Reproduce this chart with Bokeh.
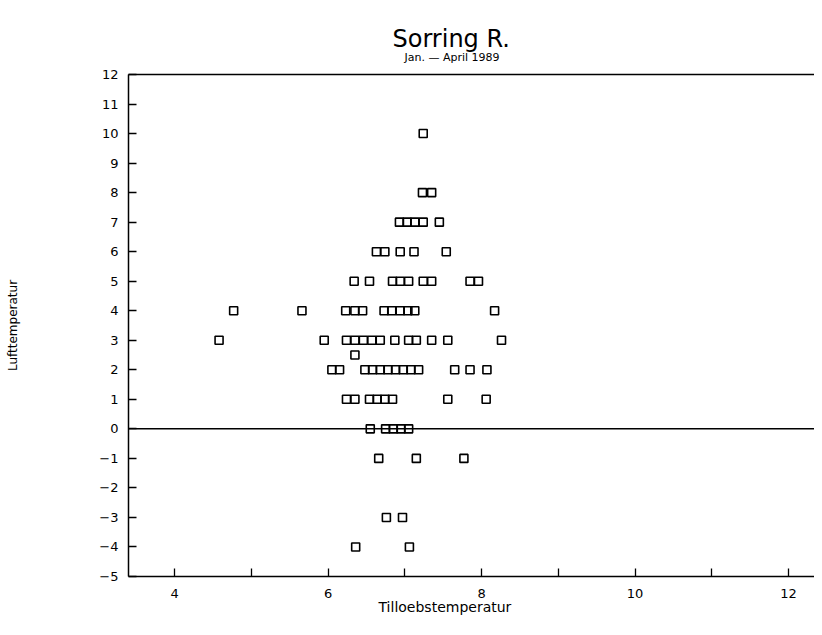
from bokeh.plotting import figure
from bokeh.models import Range1d, LinearAxis, FixedTicker, Span, Title
from bokeh.embed import file_html
from bokeh.resources import INLINE

title_text = "Sorring R."
subtitle_text = "Jan. \u2014 April 1989"
x_label = "Tilloebstemperatur"
y_label = "Lufttemperatur"

x_ticks = [4, 6, 8, 10, 12]
x_minor_ticks = [5, 7, 9, 11]
y_ticks = [-5, -4, -3, -2, -1, 0, 1, 2, 3, 4, 5, 6, 7, 8, 9, 10, 11, 12]

# Tilloebstemperatur (x) and Lufttemperatur (y)
tilloeb_temp = [
    7.24,
    7.23, 7.35,
    6.93, 7.03, 7.13, 7.24, 7.45,
    6.63, 6.74, 6.94, 7.12, 7.54,
    6.34, 6.54, 6.84, 6.94, 7.05, 7.24, 7.35, 7.85, 7.96,
    4.77, 5.66, 6.23, 6.35, 6.45, 6.73, 6.83, 6.94, 7.04, 7.13, 8.17,
    4.58, 5.95, 6.24, 6.35, 6.46, 6.57, 6.68, 6.87, 7.05, 7.15, 7.35, 7.56, 8.26,
    6.35,
    6.05, 6.15, 6.48, 6.58, 6.68, 6.78, 6.88, 6.98, 7.08, 7.18, 7.65, 7.85, 8.07,
    6.24, 6.35, 6.54, 6.64, 6.74, 6.84, 7.56, 8.06,
    6.55, 6.75, 6.85, 6.95, 7.05,
    6.66, 7.15, 7.77,
    6.76, 6.97,
    6.36, 7.06,
]
luft_temp = [
    10,
    8, 8,
    7, 7, 7, 7, 7,
    6, 6, 6, 6, 6,
    5, 5, 5, 5, 5, 5, 5, 5, 5,
    4, 4, 4, 4, 4, 4, 4, 4, 4, 4, 4,
    3, 3, 3, 3, 3, 3, 3, 3, 3, 3, 3, 3, 3,
    2.5,
    2, 2, 2, 2, 2, 2, 2, 2, 2, 2, 2, 2, 2,
    1, 1, 1, 1, 1, 1, 1, 1,
    0, 0, 0, 0, 0,
    -1, -1, -1,
    -3, -3,
    -4, -4,
]

FONT = "DejaVu Sans"

p = figure(width=814, height=619, output_backend="svg", toolbar_location=None,
           x_range=Range1d(3.40, 12.338), y_range=Range1d(-5, 12),
           min_border_left=128, min_border_right=0, min_border_top=74,
           min_border_bottom=43, x_axis_location=None, y_axis_location=None)
p.outline_line_color = None
p.xgrid.visible = False
p.ygrid.visible = False
p.background_fill_color = "white"
p.border_fill_color = "white"

# bottom axis
xaxis = LinearAxis(ticker=FixedTicker(ticks=x_ticks, minor_ticks=x_minor_ticks))
xaxis.axis_line_width = 1.5
xaxis.major_tick_in = 8
xaxis.major_tick_out = 0
xaxis.minor_tick_in = 8
xaxis.minor_tick_out = 0
xaxis.major_tick_line_width = 1.3
xaxis.minor_tick_line_width = 1.3
xaxis.major_label_text_font = FONT
xaxis.major_label_text_font_size = "13px"
xaxis.major_label_text_color = "black"
xaxis.major_label_standoff = 12
p.add_layout(xaxis, "below")

# left axis
yaxis = LinearAxis(ticker=FixedTicker(ticks=y_ticks, minor_ticks=[]))
yaxis.axis_line_width = 1.5
yaxis.major_tick_in = 8
yaxis.major_tick_out = 0
yaxis.major_tick_line_width = 1.3
yaxis.major_label_text_font = FONT
yaxis.major_label_text_font_size = "13px"
yaxis.major_label_text_color = "black"
yaxis.major_label_standoff = 10
yaxis.axis_label = y_label
yaxis.axis_label_text_font = FONT
yaxis.axis_label_text_font_size = "12px"
yaxis.axis_label_text_font_style = "normal"
yaxis.axis_label_text_color = "black"
yaxis.axis_label_standoff = 76
p.add_layout(yaxis, "left")

# top frame line
top = LinearAxis(ticker=FixedTicker(ticks=[]))
top.axis_line_width = 1.5
top.major_label_text_font_size = "0px"
top.major_tick_line_color = None
top.minor_tick_line_color = None
p.add_layout(top, "above")

p.add_layout(Title(text=subtitle_text, align="left", offset=276, vertical_align="top",
                   text_font=FONT, text_font_size="11px", text_font_style="normal",
                   text_color="black", standoff=17), "above")
p.add_layout(Title(text=title_text, align="left", offset=264, vertical_align="bottom",
                   text_font=FONT, text_font_size="24px", text_font_style="normal",
                   text_color="black", standoff=-20), "above")

p.add_layout(Title(text=x_label, align="left", offset=250, vertical_align="top",
                   text_font=FONT, text_font_size="14px", text_font_style="normal",
                   text_color="black", standoff=-3), "below")

p.add_layout(Span(location=0, dimension="width", line_color="black", line_width=1.5))

p.scatter(tilloeb_temp, luft_temp, marker="square", size=8, fill_color=None,
          line_color="black", line_width=1.6)

open("out.html", "w").write(file_html(p, INLINE))
